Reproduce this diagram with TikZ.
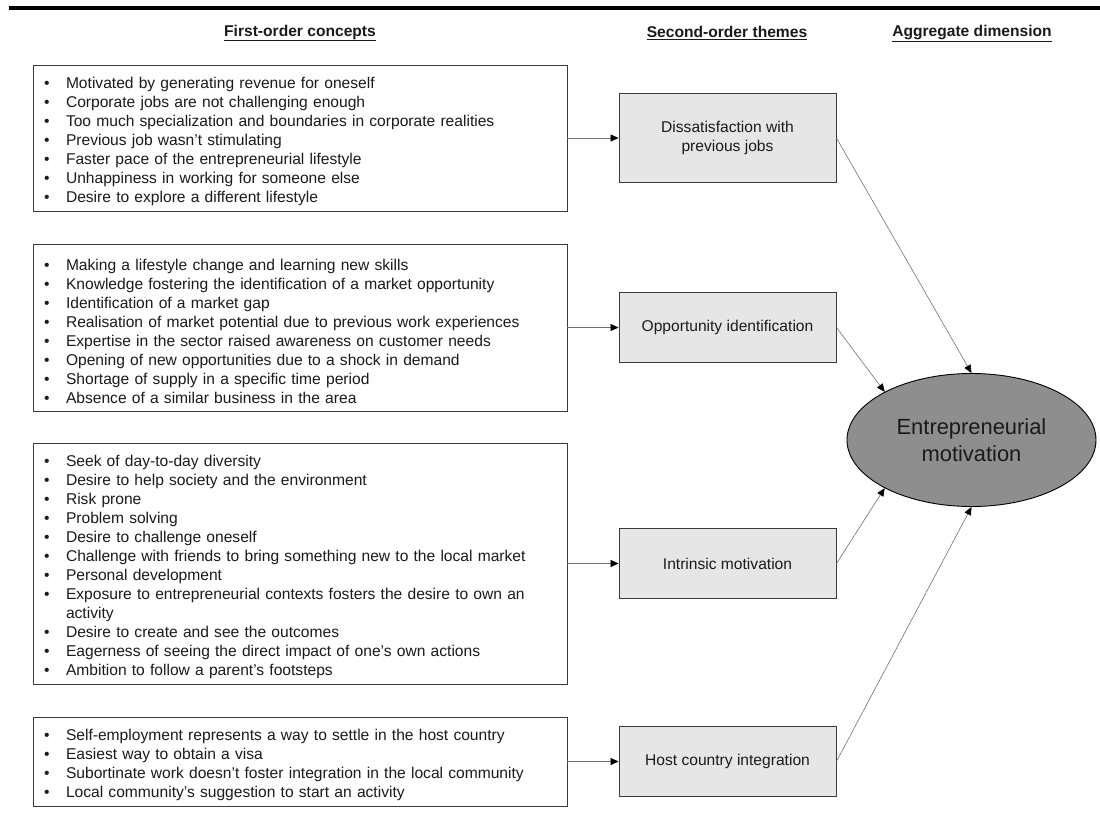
\documentclass[tikz,border=0pt]{standalone}
\usepackage{fontspec}
\setmainfont{Liberation Sans}
\usepackage{tikz}
\usetikzlibrary{arrows.meta,positioning,shapes.geometric}
\usepackage{xcolor}
\definecolor{ink}{HTML}{1A1A1A}
\definecolor{frame}{HTML}{3A3A3A}
\definecolor{themefill}{HTML}{E6E6E6}
\definecolor{aggfill}{HTML}{8E8E8E}
\definecolor{lnk}{HTML}{707070}

\newcommand{\bodyfont}{\fontsize{15.6}{19}\selectfont}
\newenvironment{conceptlist}{%
  \begin{list}{\textbullet}{%
    \setlength{\leftmargin}{33pt}\setlength{\rightmargin}{20pt}%
    \setlength{\labelwidth}{16pt}\setlength{\labelsep}{16.3pt}%
    \setlength{\itemsep}{0pt}\setlength{\parsep}{0pt}%
    \setlength{\topsep}{0pt}\setlength{\partopsep}{0pt}}\raggedright}%
  {\end{list}}

\begin{document}
\begin{tikzpicture}[x=1pt,y=-1pt,
  conceptbox/.style={draw=frame,line width=0.9pt,minimum width=534pt,
    text width=534pt,inner xsep=0pt,inner ysep=0pt,font=\bodyfont,text=ink},
  themebox/.style={draw=frame,line width=0.9pt,fill=themefill,minimum width=217pt,
    minimum height=70pt,align=center,font=\bodyfont,text=ink},
  head/.style={font=\bodyfont\bfseries,text=ink},
  feed/.style={draw=lnk,line width=0.6pt,-{Triangle[length=8pt,width=7pt,color=black]}}]
  \useasboundingbox (0,0) rectangle (1100,830);
  % rule on top
  \draw[line width=4.5pt] (9,8) -- (1100,8);
  % column heads
  \node[head] (hd1) at (300,33) {\underline{First-order concepts}};
  \node[head] (hd2) at (727,33) {\underline{Second-order themes}};
  \node[head] (hd3) at (972,33) {\underline{Aggregate dimension}};
  % first-order concepts
  \node[conceptbox,minimum height=146pt] (fo1) at (300,138) {\begin{conceptlist}
    \item Motivated by generating revenue for oneself
    \item Corporate jobs are not challenging enough
    \item Too much specialization and boundaries in corporate realities
    \item Previous job wasn't stimulating
    \item Faster pace of the entrepreneurial lifestyle
    \item Unhappiness in working for someone else
    \item Desire to explore a different lifestyle
  \end{conceptlist}};
  \node[conceptbox,minimum height=167pt] (fo2) at (300,327.5) {\begin{conceptlist}
    \item Making a lifestyle change and learning new skills
    \item Knowledge fostering the identification of a market opportunity
    \item Identification of a market gap
    \item Realisation of market potential due to previous work experiences
    \item Expertise in the sector raised awareness on customer needs
    \item Opening of new opportunities due to a shock in demand
    \item Shortage of supply in a specific time period
    \item Absence of a similar business in the area
  \end{conceptlist}};
  \node[conceptbox,minimum height=241pt] (fo3) at (300,563.5) {\begin{conceptlist}
    \item Seek of day-to-day diversity
    \item Desire to help society and the environment
    \item Risk prone
    \item Problem solving
    \item Desire to challenge oneself
    \item Challenge with friends to bring something new to the local market
    \item Personal development
    \item Exposure to entrepreneurial contexts fosters the desire to own an activity
    \item Desire to create and see the outcomes
    \item Eagerness of seeing the direct impact of one's own actions
    \item Ambition to follow a parent's footsteps
  \end{conceptlist}};
  \node[conceptbox,minimum height=89pt] (fo4) at (300,761.5) {\begin{conceptlist}
    \item Self-employment represents a way to settle in the host country
    \item Easiest way to obtain a visa
    \item Subortinate work doesn't foster integration in the local community
    \item Local community's suggestion to start an activity
  \end{conceptlist}};
  % second-order themes
  \node[themebox,minimum height=89pt] (th1) at (727.5,138) {Dissatisfaction with\\previous jobs};
  \node[themebox] (th2) at (727.5,327.5) {Opportunity identification};
  \node[themebox] (th3) at (727.5,563.5) {Intrinsic motivation};
  \node[themebox] (th4) at (727.5,761.5) {Host country integration};
  % aggregate dimension
  \node[ellipse,draw=black,line width=0.9pt,fill=aggfill,minimum width=249pt,minimum height=133pt,
    inner sep=0pt,align=center,font=\fontsize{21.9}{27}\selectfont,text=ink] (motiv) at (971.5,440)
    {Entrepreneurial\\motivation};
  % links
  \foreach \i in {1,...,4}
    \draw[feed] (fo\i.east) -- (th\i.west);
  \draw[feed] (th1.east) -- (motiv.north);
  \draw[feed] (th2.east) -- (motiv.151);
  \draw[feed] (th3.east) -- (motiv.209);
  \draw[feed] (th4.east) -- (motiv.south);
\end{tikzpicture}
\end{document}
